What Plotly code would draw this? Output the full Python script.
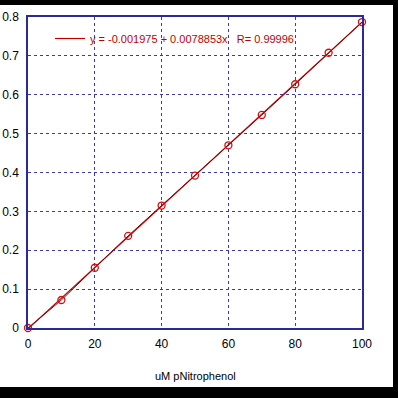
import plotly.graph_objects as go

# data
conc = [0, 10, 20, 30, 40, 50, 60, 70, 80, 90, 100]
absorb = [0.0, 0.072, 0.155, 0.237, 0.315, 0.392, 0.470, 0.548, 0.627, 0.708, 0.787]
fit_x = [0, 100]
fit_y = [-0.001975, 0.786555]
legend_label = "y = -0.001975 + 0.0078853x   R= 0.99996"
x_title = "uM pNitrophenol"
x_ticks = [0, 20, 40, 60, 80, 100]
y_ticks = [0, 0.1, 0.2, 0.3, 0.4, 0.5, 0.6, 0.7, 0.8]

W, H = 398, 398
L, R, T, B = 28, 36, 17, 70
pw, ph = W - L - R, H - T - B

def px_x(p):
    return (p - L) / pw

def px_y(p):
    return (H - B - p) / ph

fig = go.Figure()
fig.add_trace(go.Scatter(
    x=fit_x, y=fit_y, mode="lines", name=legend_label,
    line=dict(color="#c00000", width=1.2), showlegend=True, cliponaxis=True))
fig.add_trace(go.Scatter(
    x=conc, y=absorb, mode="lines+markers", showlegend=False, cliponaxis=False,
    line=dict(color="#8b0000", width=1),
    marker=dict(symbol="circle-open", size=7, color="#d01010", line=dict(width=1.3))))

axis_col = "#2a2a9a"
grid_col = "#3a3ab0"
fig.update_xaxes(range=[0, 100], tickvals=x_ticks, showline=True, mirror=True,
                 linecolor=axis_col, linewidth=1.5, showgrid=True, gridcolor=grid_col,
                 griddash="dot", gridwidth=1, zeroline=False, ticks="", automargin=False,
                 ticklabelstandoff=4, tickfont=dict(size=12, color="black"))
fig.update_yaxes(range=[0, 0.8], tickvals=y_ticks, ticktext=["0"] + [f"{v:g}" for v in y_ticks[1:]],
                 showline=True, mirror=True, automargin=False,
                 linecolor=axis_col, linewidth=1.5, showgrid=True, gridcolor=grid_col,
                 griddash="dot", gridwidth=1, zeroline=False, ticks="",
                 ticklabelstandoff=5, tickfont=dict(size=12, color="black"))

shapes = [
    dict(type="rect", xref="paper", yref="paper", x0=px_x(-5), x1=px_x(W + 5),
         y0=px_y(5), y1=px_y(-5), fillcolor="black", line_width=0, layer="above"),
    dict(type="rect", xref="paper", yref="paper", x0=px_x(393), x1=px_x(W + 5),
         y0=px_y(H + 5), y1=px_y(-5), fillcolor="black", line_width=0, layer="above"),
    dict(type="rect", xref="paper", yref="paper", x0=px_x(-5), x1=px_x(W + 5),
         y0=px_y(H + 5), y1=px_y(387), fillcolor="black", line_width=0, layer="above"),
]

fig.update_layout(
    width=W, height=H,
    margin=dict(l=L, r=R, t=T, b=B, autoexpand=False),
    paper_bgcolor="white", plot_bgcolor="white",
    font=dict(family="Liberation Sans, Arial, sans-serif", size=12, color="black"),
    shapes=shapes,
    legend=dict(x=px_x(50), y=px_y(24), xanchor="left", yanchor="top",
                bgcolor="rgba(0,0,0,0)", font=dict(size=11, color="#c00000"),
                itemwidth=30),
    annotations=[dict(text=x_title, xref="paper", yref="paper", x=px_x(195), y=px_y(376),
                      xanchor="center", yanchor="middle", showarrow=False,
                      font=dict(size=11, color="black"))],
)

fig.write_html("out.html", config={"displayModeBar": False},
               post_script="document.body.style.margin='0';document.body.style.overflow='hidden';")
